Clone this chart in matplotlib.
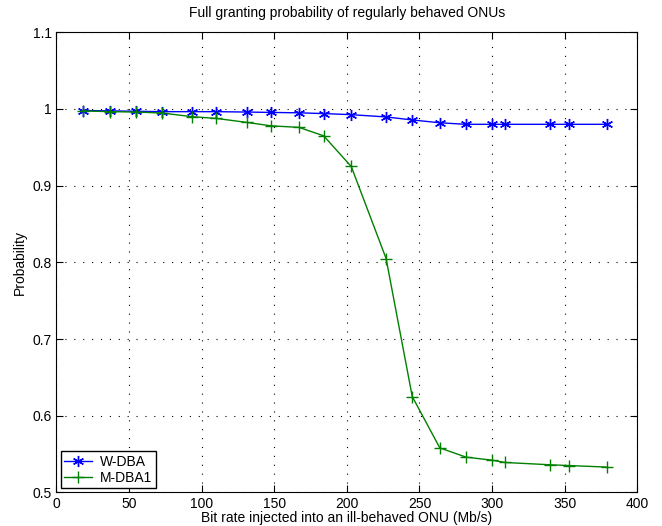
import numpy as np
import matplotlib
matplotlib.use("Agg")
import matplotlib.pyplot as plt

# données
bit_rate = [18, 37, 55, 73, 93, 110, 131, 148, 167, 184,
            203, 227, 245, 264, 282, 300, 309, 340, 353, 379]
w_dba = [0.998, 0.9975, 0.997, 0.9965, 0.9965, 0.9965, 0.996, 0.9955, 0.995, 0.994,
         0.9926, 0.9896, 0.9857, 0.982, 0.980, 0.980, 0.980, 0.980, 0.980, 0.980]
m_dba1 = [0.9975, 0.9965, 0.996, 0.9947, 0.990, 0.9877, 0.9825, 0.978, 0.976, 0.965,
          0.925, 0.805, 0.625, 0.558, 0.546, 0.542, 0.539, 0.536, 0.535, 0.533]

plt.rcParams['font.family'] = ['Liberation Sans', 'DejaVu Sans']

fig = plt.figure(figsize=(6.62, 5.26), dpi=100)
ax = fig.add_axes([0.0853, 0.0639, 0.8774, 0.8747])

# astérisque style MATLAB
ax.plot(bit_rate, w_dba, color='blue', marker=(6, 2, 0), markersize=8, markeredgewidth=1,
        linewidth=1, label='W-DBA')
ax.plot(bit_rate, m_dba1, color=(0, 0.5, 0), marker='+', markersize=8, markeredgewidth=1,
        linewidth=1, label='M-DBA1')

ax.set_xlim(0, 400)
ax.set_ylim(0.5, 1.1)
ax.set_xticks(np.arange(0, 401, 50))
ax.set_yticks(np.arange(0.5, 1.101, 0.1))
ax.set_yticklabels(['0.5', '0.6', '0.7', '0.8', '0.9', '1', '1.1'])
ax.tick_params(direction='in', top=True, right=True, labelsize=10, length=5)
ax.grid(True, color='black', linestyle=(0, (1, 7)), linewidth=0.8)

ax.set_title('Full granting probability of regularly behaved ONUs', fontsize=10, pad=11)
ax.set_xlabel('Bit rate injected into an ill-behaved ONU (Mb/s)', fontsize=10, labelpad=0)
ax.set_ylabel('Probability', fontsize=10)

leg = ax.legend(loc='lower left', fontsize=10, fancybox=False, framealpha=1,
                edgecolor='black', borderaxespad=0.3, handlelength=2.0,
                labelspacing=0.15, borderpad=0.25, handletextpad=0.6)
leg.get_frame().set_linewidth(1)

fig.savefig('out.png', dpi=100)
